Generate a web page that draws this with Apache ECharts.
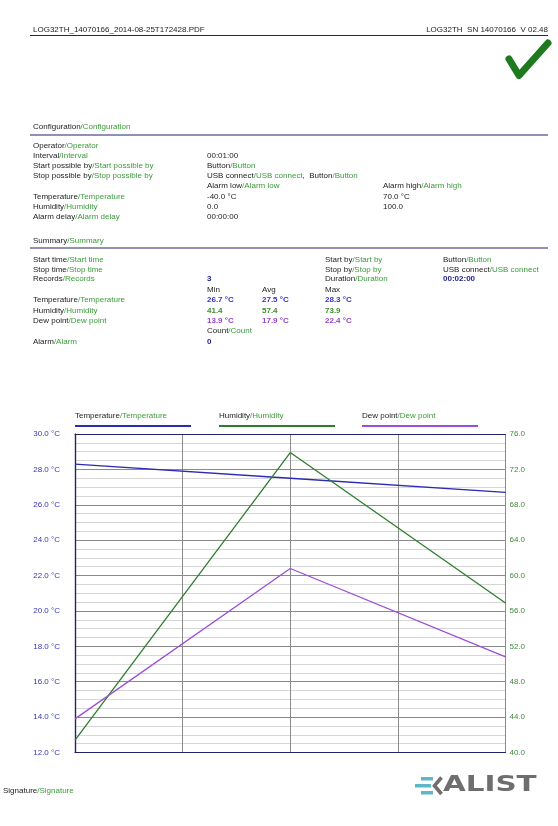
<!DOCTYPE html>
<html>
<head>
<meta charset="utf-8">
<script src="https://cdn.jsdelivr.net/npm/echarts@6/dist/echarts.min.js"></script>
<style>
  html, body { margin: 0; padding: 0; background: #fff; }
  #chart { width: 558px; height: 826px; }
</style>
</head>
<body>
<div id="chart"></div>
<script>
// logged values, one record per minute
const times = [0, 1, 2];
const temperature = [28.3, 27.5, 26.7];
const humidity = [41.4, 73.9, 56.9];
const dewPoint = [13.9, 22.4, 17.4];

// axis scales: min, max, interval
const tempAxis = [12, 30, 2];
const humAxis = [40, 76, 4];
const timeAxis = [0, 2, 0.5];

const FONT = "'Liberation Sans', Arial, sans-serif";
const C_TEMP = "#2b2bb5";
const C_HUM = "#2f7d2f";
const C_DEW = "#9b4fd8";
const NAVY = "#22226a";

// zrender rich styles use fill, not color
const rich = {
  k: { fill: "#1c1c1c", fontSize: 8, fontFamily: FONT },
  g: { fill: "#3c9a3c", fontSize: 8, fontFamily: FONT },
  t: { fill: "#3535c0", fontSize: 8, fontFamily: FONT, fontWeight: "bold" },
  h: { fill: "#3f8f2f", fontSize: 8, fontFamily: FONT, fontWeight: "bold" },
  d: { fill: "#9a45d2", fontSize: 8, fontFamily: FONT, fontWeight: "bold" },
  n: { fill: "#23238a", fontSize: 8, fontFamily: FONT, fontWeight: "bold" }
};

function txt(x, y, text, align) {
  return {
    type: "text",
    x: x,
    y: y,
    style: {
      text: text,
      rich: rich,
      font: "8px " + FONT,
      fill: "#1c1c1c",
      align: align || "left",
      verticalAlign: "middle"
    }
  };
}
function pair(a) {
  return "{k|" + a + "}{g|/" + a + "}";
}
function rule(y) {
  return {
    type: "line",
    shape: { x1: 30, y1: y, x2: 548, y2: y },
    style: { stroke: NAVY, lineWidth: 1.2 }
  };
}

const min = a => Math.min.apply(null, a);
const max = a => Math.max.apply(null, a);
const avg = a => a.reduce((s, v) => s + v, 0) / a.length;
const f1 = v => v.toFixed(1);

let g = [];
// header
g.push(txt(33, 30, "{k|LOG32TH_14070166_2014-08-25T172428.PDF}"));
g.push(txt(548, 30, "{k|LOG32TH  SN 14070166  V 02.48}", "right"));
g.push(rule(35.5));
g.push({
  type: "polyline",
  shape: { points: [[509, 59], [519, 75.5], [548, 43]] },
  style: { stroke: "#1e7a1e", lineWidth: 7, fill: null, lineJoin: "round", lineCap: "round" }
});

// configuration
g.push(txt(33, 127, pair("Configuration")));
g.push(rule(135));
g.push(txt(33, 145.5, pair("Operator")));
g.push(txt(33, 156, pair("Interval")));
g.push(txt(207, 156, "{k|00:01:00}"));
g.push(txt(33, 166, pair("Start possible by")));
g.push(txt(207, 166, pair("Button")));
g.push(txt(33, 176, pair("Stop possible by")));
g.push(txt(207, 176, pair("USB connect") + "{k|,  }" + pair("Button")));
g.push(txt(207, 186, pair("Alarm low")));
g.push(txt(383, 186, pair("Alarm high")));
g.push(txt(33, 196.5, pair("Temperature")));
g.push(txt(207, 196.5, "{k|-40.0 °C}"));
g.push(txt(383, 196.5, "{k|70.0 °C}"));
g.push(txt(33, 207, pair("Humidity")));
g.push(txt(207, 207, "{k|0.0}"));
g.push(txt(383, 207, "{k|100.0}"));
g.push(txt(33, 217, pair("Alarm delay")));
g.push(txt(207, 217, "{k|00:00:00}"));

// summary
g.push(txt(33, 241, pair("Summary")));
g.push(rule(248));
g.push(txt(33, 260, pair("Start time")));
g.push(txt(325, 260, pair("Start by")));
g.push(txt(443, 260, pair("Button")));
g.push(txt(33, 269.5, pair("Stop time")));
g.push(txt(325, 269.5, pair("Stop by")));
g.push(txt(443, 269.5, pair("USB connect")));
g.push(txt(33, 279, pair("Records")));
g.push(txt(207, 279, "{n|" + temperature.length + "}"));
g.push(txt(325, 279, pair("Duration")));
g.push(txt(443, 279, "{n|00:02:00}"));
g.push(txt(207, 290, "{k|Min}"));
g.push(txt(262, 290, "{k|Avg}"));
g.push(txt(325, 290, "{k|Max}"));
[
  ["Temperature", temperature, "t", " °C", 300],
  ["Humidity", humidity, "h", "", 310.5],
  ["Dew point", dewPoint, "d", " °C", 320.5]
].forEach(r => {
  g.push(txt(33, r[4], pair(r[0])));
  g.push(txt(207, r[4], "{" + r[2] + "|" + f1(min(r[1])) + r[3] + "}"));
  g.push(txt(262, r[4], "{" + r[2] + "|" + f1(avg(r[1])) + r[3] + "}"));
  g.push(txt(325, r[4], "{" + r[2] + "|" + f1(max(r[1])) + r[3] + "}"));
});
g.push(txt(207, 331, pair("Count")));
g.push(txt(33, 341.5, pair("Alarm")));
g.push(txt(207, 341.5, "{n|0}"));

// footer
g.push(txt(3, 791, pair("Signature")));
const TEAL = "#5db7c6";
g.push({ type: "rect", shape: { x: 421, y: 777, width: 12, height: 3.5 }, style: { fill: TEAL } });
g.push({ type: "rect", shape: { x: 415, y: 784, width: 16, height: 3.5 }, style: { fill: TEAL } });
g.push({ type: "rect", shape: { x: 421, y: 791, width: 12, height: 3.5 }, style: { fill: TEAL } });
g.push({
  type: "polyline",
  shape: { points: [[441.5, 777.5], [434.5, 785.7], [441.5, 794]] },
  style: { stroke: "#6e6e6e", lineWidth: 3.6, fill: null }
});
g.push({
  type: "text",
  x: 443,
  y: 786,
  scaleX: 1.4,
  style: {
    text: "ALIST",
    font: "bold 21px 'DejaVu Sans', sans-serif",
    fill: "#6e6e6e",
    align: "left",
    verticalAlign: "middle"
  }
});

const legendX = [75, 219, 362];
const names = ["Temperature", "Humidity", "Dew point"];
const colors = [C_TEMP, C_HUM, C_DEW];

const chart = echarts.init(document.getElementById("chart"));
chart.setOption({
  animation: false,
  backgroundColor: "#fff",
  graphic: g,
  legend: names.map((n, i) => ({
    data: [n],
    left: legendX[i] - 11,
    top: 407,
    itemWidth: 0,
    itemHeight: 0,
    selectedMode: false,
    formatter: name => "{a|" + name + "}{b|/" + name + "}\n{l|}",
    textStyle: {
      rich: {
        a: { color: "#1c1c1c", fontSize: 8, fontFamily: FONT, lineHeight: 16 },
        b: { color: "#3c9a3c", fontSize: 8, fontFamily: FONT, lineHeight: 16 },
        l: { width: 116, height: 2, lineHeight: 4, backgroundColor: colors[i] }
      }
    }
  })),
  grid: { left: 75, right: 52.5, top: 434, bottom: 73.5 },
  xAxis: [
    {
      type: "value",
      min: timeAxis[0],
      max: timeAxis[1],
      interval: timeAxis[2],
      axisLine: { show: true, lineStyle: { color: NAVY, width: 1.2 } },
      axisTick: { show: false },
      axisLabel: { show: false },
      splitLine: { show: true, lineStyle: { color: "#8a8a8a", width: 1 } }
    },
    {
      type: "value",
      position: "top",
      min: timeAxis[0],
      max: timeAxis[1],
      axisLine: { show: true, lineStyle: { color: NAVY, width: 1.2 } },
      axisTick: { show: false },
      axisLabel: { show: false },
      splitLine: { show: false }
    }
  ],
  yAxis: [
    {
      type: "value",
      min: tempAxis[0],
      max: tempAxis[1],
      interval: tempAxis[2],
      axisLine: { show: true, lineStyle: { color: NAVY, width: 1.2 } },
      axisTick: { show: false },
      axisLabel: {
        margin: 15,
        color: "#3535c0",
        fontSize: 8,
        fontFamily: FONT,
        formatter: v => f1(v) + " °C"
      },
      splitLine: { show: true, lineStyle: { color: "#8a8a8a", width: 1 } },
      minorTick: { show: false, splitNumber: 4 },
      minorSplitLine: { show: true, lineStyle: { color: "#d6d6d6", width: 1 } }
    },
    {
      type: "value",
      min: humAxis[0],
      max: humAxis[1],
      interval: humAxis[2],
      position: "right",
      axisLine: { show: true, lineStyle: { color: NAVY, width: 1.2 } },
      axisTick: { show: false },
      axisLabel: {
        margin: 4,
        color: "#3f8a3f",
        fontSize: 8,
        fontFamily: FONT,
        formatter: v => f1(v)
      },
      splitLine: { show: false }
    }
  ],
  series: [
    {
      name: "Temperature",
      type: "line",
      yAxisIndex: 0,
      showSymbol: false,
      data: times.map((t, i) => [t, temperature[i]]),
      lineStyle: { color: C_TEMP, width: 1.3 },
      itemStyle: { color: C_TEMP }
    },
    {
      name: "Humidity",
      type: "line",
      yAxisIndex: 1,
      showSymbol: false,
      data: times.map((t, i) => [t, humidity[i]]),
      lineStyle: { color: C_HUM, width: 1.3 },
      itemStyle: { color: C_HUM }
    },
    {
      name: "Dew point",
      type: "line",
      yAxisIndex: 0,
      showSymbol: false,
      data: times.map((t, i) => [t, dewPoint[i]]),
      lineStyle: { color: C_DEW, width: 1.3 },
      itemStyle: { color: C_DEW }
    }
  ]
});
</script>
</body>
</html>
